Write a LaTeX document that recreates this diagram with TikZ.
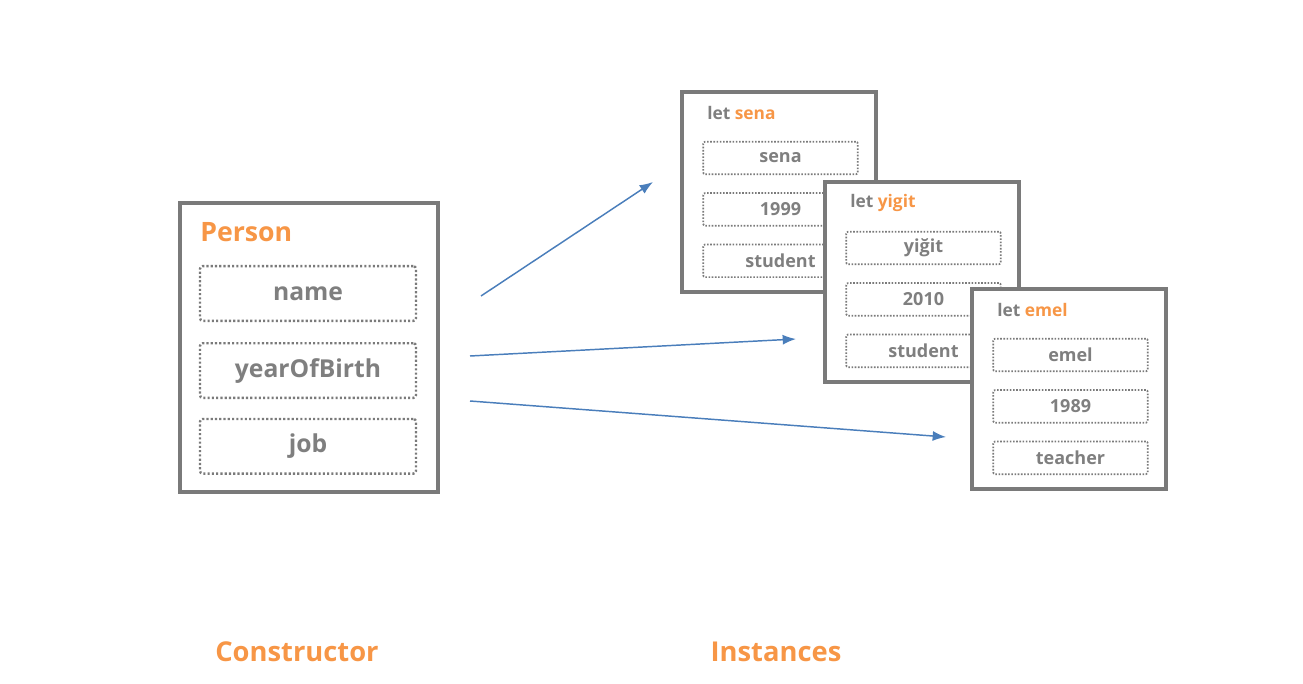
\documentclass[tikz,border=0pt]{standalone}
\usepackage{fontspec}
\setmainfont{Open Sans}
\usetikzlibrary{arrows.meta, positioning}

\definecolor{boxgray}{HTML}{7A7A7A}
\definecolor{txtgray}{HTML}{7F7F7F}
\definecolor{accent}{HTML}{F79646}
\definecolor{linkblue}{HTML}{4A7EBB}

\begin{document}
\begin{tikzpicture}[
    x=0.75pt, y=-0.75pt, % one unit is one pixel, y runs down
    >={Latex[length=10pt, width=7.5pt]}, % Set default arrow tip style
    frame/.style={draw=boxgray, line width=2.6pt, fill=white, inner sep=0pt}, % Style for outer boxes
    pfield/.style={draw=boxgray, line width=1.8pt, dash pattern=on 1.6pt off 1.6pt,
        rounded corners=2pt, minimum width=162pt, minimum height=41pt, inner sep=0pt,
        text=txtgray, font=\bfseries\fontsize{18.5}{20}\selectfont}, % Style for constructor fields
    ifield/.style={draw=boxgray, line width=1.3pt, dash pattern=on 1.2pt off 1.2pt,
        rounded corners=1.5pt, minimum width=116pt, minimum height=24.5pt, inner sep=0pt,
        text=txtgray, font=\bfseries\fontsize{13.5}{15}\selectfont}, % Style for instance fields
    title/.style={anchor=west, inner sep=0pt, text=accent, font=\bfseries\fontsize{20}{24}\selectfont}, % Style for class name
    letlabel/.style={anchor=west, inner sep=0pt, text=txtgray, font=\bfseries\fontsize{13}{15}\selectfont}, % Style for variable names
    caption/.style={text=accent, font=\bfseries\fontsize{20.5}{24}\selectfont}, % Style for captions
    link/.style={->, draw=linkblue, line width=1.1pt} % Style for arrows
]

    \useasboundingbox (0,0) rectangle (1303,684);

    % Constructor box
    \node[frame, minimum width=193.5pt, minimum height=216.5pt] (person) at (309,347.5) {};
    \node[title] (person-title) at (200,232) {Person};
    \node[pfield] (name) at (308,293.5) {name};
    \node[pfield, below=15pt of name] (year) {yearOfBirth};
    \node[pfield, below=14pt of year] (job) {job};

    % Instances (drawn in order, each one covers the one before)
    \foreach \n/\first/\yr/\jb/\x/\y in {sena/sena/1999/student/682/92,
        yigit/yiğit/2010/student/825/182, emel/emel/1989/teacher/972/289} {
        \node[frame, minimum width=145.5pt, minimum height=150pt] (\n) at (\x+97,\y+100) {};
        \node[letlabel] (\n-let) at (\x+25,\y+21) {let \textcolor{accent}{\n}};
        \node[ifield] (\n-1) at (\x+98.5,\y+66) {\first};
        \node[ifield, below=12.75pt of \n-1] (\n-2) {\yr};
        \node[ifield, below=12.75pt of \n-2] (\n-3) {\jb};
    }

    % Arrows from the constructor to the instances
    \coordinate (from-1) at (481,296);
    \coordinate (to-1) at (653,182);
    \coordinate (from-2) at (470,356);
    \coordinate (to-2) at (796,339);
    \coordinate (from-3) at (470,401);
    \coordinate (to-3) at (946,437);
    \foreach \i in {1,2,3} {
        \draw[link] (from-\i) -- (to-\i);
    }

    % Captions
    \node[caption] (ctor) at (297,652) {Constructor};
    \node[caption] (inst) at (776,652) {Instances};

\end{tikzpicture}
\end{document}
